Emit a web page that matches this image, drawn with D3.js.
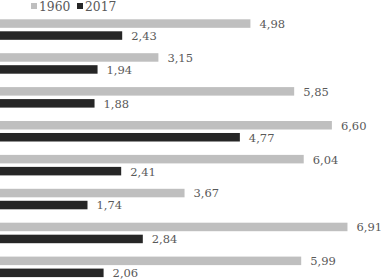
<!DOCTYPE html>
<html>
<head>
<meta charset="utf-8">
<script src="https://cdn.jsdelivr.net/npm/d3@7"></script>
<style>
  body { margin: 0; background: #fff; }
  text { font-family: "DejaVu Serif", serif; font-size: 11.5px; fill: #595959; }
  .legend text { font-size: 12.3px; }
</style>
</head>
<body>
<div id="chart"></div>
<script>
// data
var series = ["1960", "2017"];
var groups = ["g1", "g2", "g3", "g4", "g5", "g6", "g7", "g8"];
var values_1960 = [4.98, 3.15, 5.85, 6.60, 6.04, 3.67, 6.91, 5.99];
var values_2017 = [2.43, 1.94, 1.88, 4.77, 2.41, 1.74, 2.84, 2.06];
var colors = ["#bfbfbf", "#262626"];

var width = 383, height = 279;

var svg = d3.select("#chart").append("svg")
    .attr("width", width)
    .attr("height", height);

var x = d3.scaleLinear()
    .domain([0, 7])
    .range([0, 352]);

var y0 = d3.scaleBand()
    .domain(groups)
    .range([19.3, 277.1])
    .paddingInner(0.395)
    .paddingOuter(0);

var y1 = d3.scaleBand()
    .domain(series)
    .range([0, y0.bandwidth()])
    .paddingInner(0.29);

var rows = groups.map(function(g, i) {
  return [
    {group: g, key: series[0], value: values_1960[i]},
    {group: g, key: series[1], value: values_2017[i]}
  ];
});

var fmt = function(v) { return d3.format(".2f")(v).replace(".", ","); };

var g = svg.selectAll("g.group")
    .data(rows)
  .enter().append("g")
    .attr("class", "group")
    .attr("transform", function(d) { return "translate(0," + y0(d[0].group) + ")"; });

g.selectAll("rect")
    .data(function(d) { return d; })
  .enter().append("rect")
    .attr("x", x(0))
    .attr("y", function(d) { return y1(d.key); })
    .attr("width", function(d) { return x(d.value) - x(0); })
    .attr("height", y1.bandwidth())
    .style("fill", function(d, i) { return colors[i]; });

g.selectAll("text")
    .data(function(d) { return d; })
  .enter().append("text")
    .attr("x", function(d) { return x(d.value) + 9; })
    .attr("y", function(d) { return y1(d.key) + y1.bandwidth() / 2 + 0.4; })
    .attr("dominant-baseline", "central")
    .text(function(d) { return fmt(d.value); });

// legend
var legend = svg.selectAll("g.legend")
    .data(series)
  .enter().append("g")
    .attr("class", "legend")
    .attr("transform", function(d, i) { return "translate(" + (31 + i * 46) + ",3)"; });

legend.append("rect")
    .attr("width", 6)
    .attr("height", 6)
    .style("fill", function(d, i) { return colors[i]; });

legend.append("text")
    .attr("x", 8)
    .attr("y", 3.5)
    .attr("dominant-baseline", "central")
    .text(function(d) { return d; });
</script>
</body>
</html>
